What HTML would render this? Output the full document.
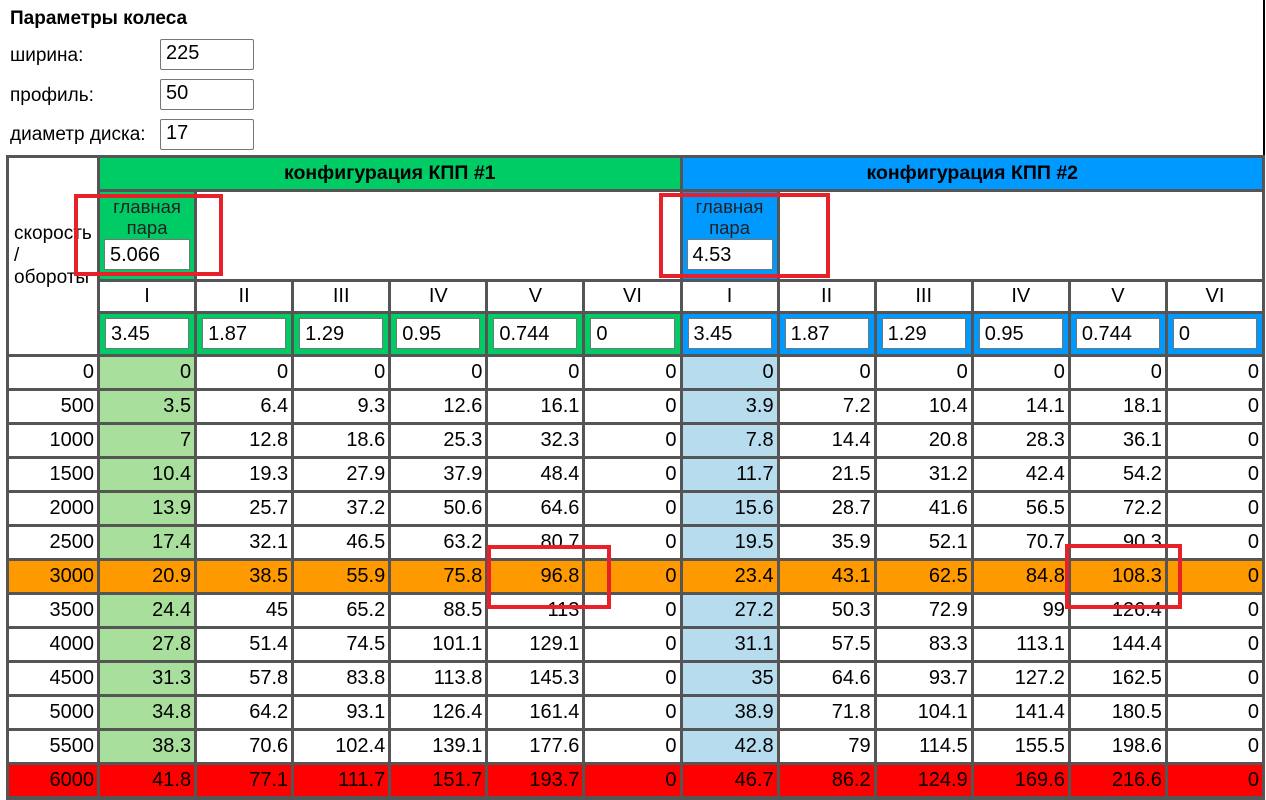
<!DOCTYPE html>
<html><head><meta charset="utf-8"><style>
*{box-sizing:border-box;margin:0;padding:0}
body{width:1266px;height:800px;background:#fff;font-family:"Liberation Sans",Arial,sans-serif;color:#000;position:relative;overflow:hidden}
.t{position:absolute;font-size:19px}
.in{position:absolute;left:160px;width:94px;height:31px;border:1px solid #767676;border-radius:2px;font-size:20px;padding:2px 0 0 5px;background:#fff}
#g{position:absolute;left:6px;top:155px;width:1259px;height:645px;background:#555;border:3px solid #555;border-bottom:none;display:grid;grid-template-columns:88px repeat(12,1fr);grid-template-rows:31px 87px 29px 40px repeat(13,31px);gap:3px}
#g div{background:#fff;font-size:20px;text-align:right;padding:4px 3px 0 0;line-height:22px}
#g .lb{grid-row:1/5;text-align:left;padding:0 0 0 5px;font-size:19px;line-height:22px;display:flex;align-items:center}
#g .h1{grid-column:2/8;background:#00cc66;text-align:center;font-weight:bold;font-size:19.5px;padding:4px 0 0}
#g .h2{grid-column:8/14;background:#0099ff;text-align:center;font-weight:bold;font-size:19.5px;padding:4px 0 0}
#g .mg,#g .mb{text-align:center;padding:4px 4px 0;font-size:18.5px;line-height:21px;color:#222}
#g .mg{background:#00cc66}#g .mb{background:#0099ff}
#g .w{grid-column:span 5}
#g .r{text-align:center;padding:3px 0 0;font-size:20px}
#g .ig,#g .ib{padding:4px 5px}
#g .ig{background:#00cc66}#g .ib{background:#0099ff}
#g .bx{background:#fff;border:1px solid #767676;height:31px;text-align:left;padding:4px 0 0 5px;font-size:20px;line-height:22px;color:#000}
#g .lg{background:#a9df9c}#g .lbl{background:#b6dcee}
#g .o{background:#ff9900}#g .rd{background:#ff0000}
.rb{position:absolute;border:4px solid #e8202a}
</style></head><body>
<div class="t" style="left:10px;top:8px;font-weight:bold">Параметры колеса</div>
<div class="t" style="left:10px;top:45px">ширина:</div>
<div class="t" style="left:10px;top:85px">профиль:</div>
<div class="t" style="left:10px;top:124px">диаметр диска:</div>
<div class="in" style="top:39px">225</div>
<div class="in" style="top:79px">50</div>
<div class="in" style="top:119px">17</div>
<div style="position:absolute;left:1263px;top:0;width:2px;height:155px;background:#000"></div>
<div id="g">
<div class="lb">скорость<br>/<br>обороты</div>
<div class="h1">конфигурация КПП #1</div>
<div class="h2">конфигурация КПП #2</div>
<div class="mg">главная<br>пара<div class="bx" style="margin-top:1px">5.066</div></div><div class="w"></div>
<div class="mb">главная<br>пара<div class="bx" style="margin-top:1px">4.53</div></div><div class="w"></div>
<div class="r">I</div><div class="r">II</div><div class="r">III</div><div class="r">IV</div><div class="r">V</div><div class="r">VI</div>
<div class="r">I</div><div class="r">II</div><div class="r">III</div><div class="r">IV</div><div class="r">V</div><div class="r">VI</div>
<div class="ig"><div class="bx">3.45</div></div><div class="ig"><div class="bx">1.87</div></div><div class="ig"><div class="bx">1.29</div></div><div class="ig"><div class="bx">0.95</div></div><div class="ig"><div class="bx">0.744</div></div><div class="ig"><div class="bx">0</div></div>
<div class="ib"><div class="bx">3.45</div></div><div class="ib"><div class="bx">1.87</div></div><div class="ib"><div class="bx">1.29</div></div><div class="ib"><div class="bx">0.95</div></div><div class="ib"><div class="bx">0.744</div></div><div class="ib"><div class="bx">0</div></div>
<div>0</div><div class="lg">0</div><div>0</div><div>0</div><div>0</div><div>0</div><div>0</div><div class="lbl">0</div><div>0</div><div>0</div><div>0</div><div>0</div><div>0</div>
<div>500</div><div class="lg">3.5</div><div>6.4</div><div>9.3</div><div>12.6</div><div>16.1</div><div>0</div><div class="lbl">3.9</div><div>7.2</div><div>10.4</div><div>14.1</div><div>18.1</div><div>0</div>
<div>1000</div><div class="lg">7</div><div>12.8</div><div>18.6</div><div>25.3</div><div>32.3</div><div>0</div><div class="lbl">7.8</div><div>14.4</div><div>20.8</div><div>28.3</div><div>36.1</div><div>0</div>
<div>1500</div><div class="lg">10.4</div><div>19.3</div><div>27.9</div><div>37.9</div><div>48.4</div><div>0</div><div class="lbl">11.7</div><div>21.5</div><div>31.2</div><div>42.4</div><div>54.2</div><div>0</div>
<div>2000</div><div class="lg">13.9</div><div>25.7</div><div>37.2</div><div>50.6</div><div>64.6</div><div>0</div><div class="lbl">15.6</div><div>28.7</div><div>41.6</div><div>56.5</div><div>72.2</div><div>0</div>
<div>2500</div><div class="lg">17.4</div><div>32.1</div><div>46.5</div><div>63.2</div><div>80.7</div><div>0</div><div class="lbl">19.5</div><div>35.9</div><div>52.1</div><div>70.7</div><div>90.3</div><div>0</div>
<div class="o">3000</div><div class="o">20.9</div><div class="o">38.5</div><div class="o">55.9</div><div class="o">75.8</div><div class="o">96.8</div><div class="o">0</div><div class="o">23.4</div><div class="o">43.1</div><div class="o">62.5</div><div class="o">84.8</div><div class="o">108.3</div><div class="o">0</div>
<div>3500</div><div class="lg">24.4</div><div>45</div><div>65.2</div><div>88.5</div><div>113</div><div>0</div><div class="lbl">27.2</div><div>50.3</div><div>72.9</div><div>99</div><div>126.4</div><div>0</div>
<div>4000</div><div class="lg">27.8</div><div>51.4</div><div>74.5</div><div>101.1</div><div>129.1</div><div>0</div><div class="lbl">31.1</div><div>57.5</div><div>83.3</div><div>113.1</div><div>144.4</div><div>0</div>
<div>4500</div><div class="lg">31.3</div><div>57.8</div><div>83.8</div><div>113.8</div><div>145.3</div><div>0</div><div class="lbl">35</div><div>64.6</div><div>93.7</div><div>127.2</div><div>162.5</div><div>0</div>
<div>5000</div><div class="lg">34.8</div><div>64.2</div><div>93.1</div><div>126.4</div><div>161.4</div><div>0</div><div class="lbl">38.9</div><div>71.8</div><div>104.1</div><div>141.4</div><div>180.5</div><div>0</div>
<div>5500</div><div class="lg">38.3</div><div>70.6</div><div>102.4</div><div>139.1</div><div>177.6</div><div>0</div><div class="lbl">42.8</div><div>79</div><div>114.5</div><div>155.5</div><div>198.6</div><div>0</div>
<div class="rd">6000</div><div class="rd">41.8</div><div class="rd">77.1</div><div class="rd">111.7</div><div class="rd">151.7</div><div class="rd">193.7</div><div class="rd">0</div><div class="rd">46.7</div><div class="rd">86.2</div><div class="rd">124.9</div><div class="rd">169.6</div><div class="rd">216.6</div><div class="rd">0</div>
</div>
<div class="rb" style="left:74px;top:194px;width:149px;height:82px"></div>
<div class="rb" style="left:659px;top:193px;width:171px;height:85px"></div>
<div class="rb" style="left:487px;top:545px;width:124px;height:64px"></div>
<div class="rb" style="left:1065px;top:544px;width:117px;height:65px"></div>
</body></html>
